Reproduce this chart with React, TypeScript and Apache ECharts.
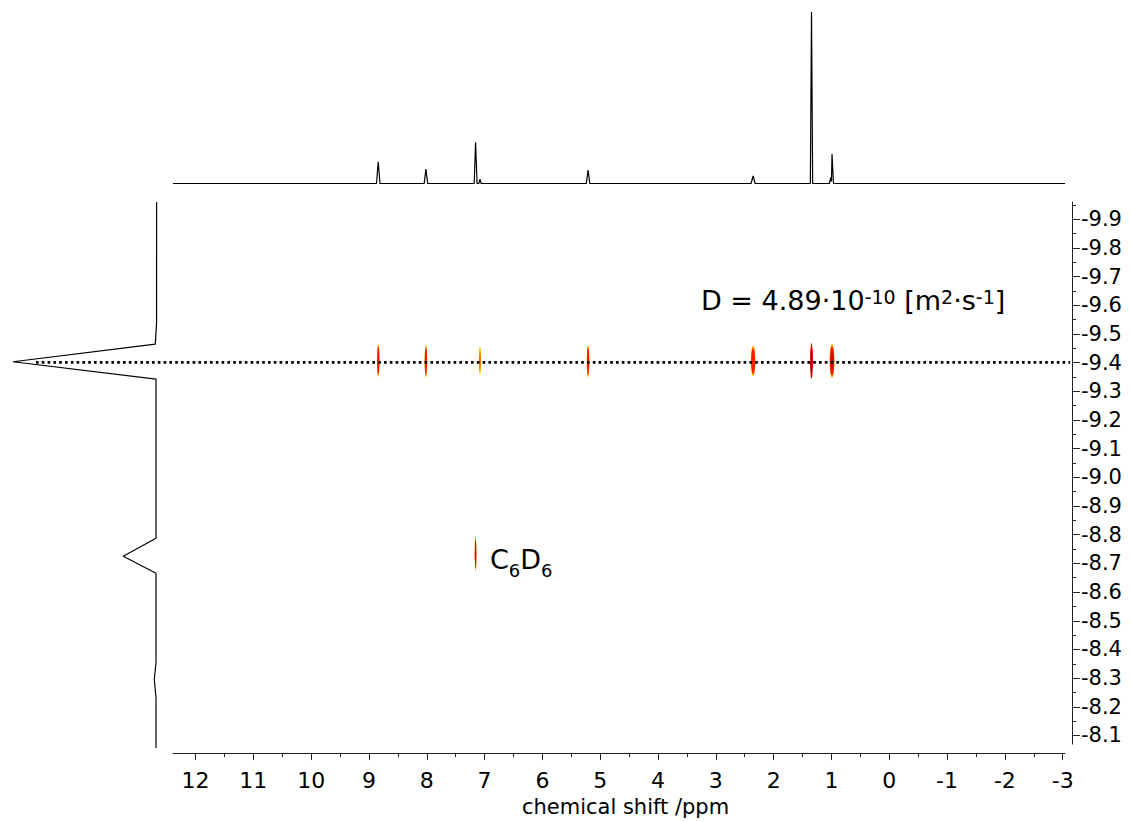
import React, { useEffect, useRef } from 'react';
import * as echarts from 'echarts';

const FONT = 'DejaVu Sans';

// chemical-shift axis (ppm, reversed) and log(D) axis (inverted)
const PPM_LEFT = 12.39;
const PPM_RIGHT = -3.04;
const LOGD_TOP = -9.96;
const LOGD_BOTTOM = -8.07;

const xMajorTicks = [12, 11, 10, 9, 8, 7, 6, 5, 4, 3, 2, 1, 0, -1, -2, -3];
const xMinorTicks = [11.5, 10.5, 9.5, 8.5, 7.5, 6.5, 5.5, 4.5, 3.5, 2.5, 1.5, 0.5, -0.5, -1.5, -2.5];
const yMajorTicks = [-9.9, -9.8, -9.7, -9.6, -9.5, -9.4, -9.3, -9.2, -9.1, -9.0, -8.9, -8.8, -8.7, -8.6, -8.5, -8.4, -8.3, -8.2, -8.1];
const yMinorTicks = [-9.95, -9.85, -9.75, -9.65, -9.55, -9.45, -9.35, -9.25, -9.15, -9.05, -8.95, -8.85, -8.75, -8.65, -8.55, -8.45, -8.35, -8.25, -8.15];

// 1D 1H spectrum (ppm, relative intensity)
const spectrumPoints: [number, number][] = [
  [12.39, 0], [8.87, 0], [8.84, 12.7], [8.81, 0],
  [8.045, 0], [8.015, 8.4], [7.985, 0],
  [7.18, 0], [7.156, 24.0], [7.13, 0],
  [7.1, 0], [7.08, 2.5], [7.06, 0],
  [5.24, 0], [5.21, 7.8], [5.18, 0],
  [2.39, 0], [2.355, 4.5], [2.32, 0],
  [1.365, 0], [1.345, 100], [1.325, 0],
  [1.035, 0], [1.012, 3.5], [1.0, 1.2], [0.99, 17.2], [0.965, 0],
  [PPM_RIGHT, 0],
];

// diffusion projection (relative intensity, log D)
const projectionPoints: [number, number][] = [
  [-0.4, -9.96], [-0.4, -9.54], [0.5, -9.468], [100, -9.407], [0, -9.347],
  [0, -8.796], [22.9, -8.734], [0, -8.675],
  [0, -8.366], [1.2, -8.307], [0, -8.245],
  [0, -8.07],
];

// DOSY cross peaks
const contourPpm = [8.84, 8.015, 7.08, 5.21, 2.355, 1.345, 0.99, 7.156];
const contourLogD = [-9.407, -9.405, -9.407, -9.405, -9.406, -9.406, -9.406, -8.734];
const contourHalfWidth = [0.023, 0.023, 0.02, 0.023, 0.04, 0.024, 0.042, 0.015];
const contourHalfSpan = [0.058, 0.057, 0.049, 0.057, 0.053, 0.062, 0.059, 0.059];
const contourLevel = [2, 2, 1, 2, 2, 4, 3, 5];

const diffusionLogD = -9.405;
const dottedFrom = 83.9;
const dottedTo = -639.2;

const contourLayers: Record<number, [string, number][]> = {
  1: [['#ffd200', 1], ['#ff9000', 0.82], ['#ff5000', 0.5]],
  2: [['#ffc800', 1], ['#ff7000', 0.92], ['#ff1a00', 0.8]],
  3: [['#ffc800', 1], ['#ff7000', 0.94], ['#f01000', 0.82], ['#d00000', 0.45]],
  4: [['#e00000', 1], ['#b80000', 0.75]],
  5: [['#ff8000', 1], ['#e80000', 0.85]],
};

export default function App() {
  const ref = useRef<HTMLDivElement>(null);

  useEffect(() => {
    const chart = echarts.init(ref.current!, null, { renderer: 'svg' });
    const contourData = contourPpm.map((p, i) => [p, contourLogD[i], contourHalfWidth[i], contourHalfSpan[i], contourLevel[i]]);

    const axisLineStyle = { color: '#222', width: 1 };

    chart.setOption({
      animation: false,
      backgroundColor: '#fff',
      grid: [
        { left: 173, right: 65, top: 202, bottom: 74 },
        { left: 173, right: 65, top: 12, bottom: 638.5 },
        { left: 13, right: 58, top: 202, bottom: 74 },
      ],
      xAxis: [
        {
          gridIndex: 0, type: 'value', min: PPM_RIGHT, max: PPM_LEFT, inverse: true,
          position: 'bottom', offset: 9,
          name: 'chemical shift /ppm', nameLocation: 'middle', nameGap: 38,
          nameTextStyle: { fontFamily: FONT, fontSize: 21, color: '#000', padding: [0, 0, 0, 13] },
          axisLine: { show: true, onZero: false, lineStyle: axisLineStyle },
          axisTick: { show: true, inside: false, length: 7, customValues: xMajorTicks, lineStyle: axisLineStyle },
          axisLabel: { show: true, customValues: xMajorTicks, margin: 16, fontFamily: FONT, fontSize: 22, color: '#000', formatter: (v: number) => String(Math.round(v)) },
          splitLine: { show: false },
        },
        {
          gridIndex: 0, type: 'value', min: PPM_RIGHT, max: PPM_LEFT, inverse: true,
          position: 'bottom', offset: 9,
          axisLine: { show: false, onZero: false },
          axisTick: { show: true, inside: false, length: 4, customValues: xMinorTicks, lineStyle: axisLineStyle },
          axisLabel: { show: false },
          splitLine: { show: false },
        },
        { gridIndex: 1, type: 'value', min: PPM_RIGHT, max: PPM_LEFT, inverse: true, show: false, axisLine: { onZero: false } },
        { gridIndex: 2, type: 'value', min: -640.56, max: 100, inverse: true, show: false, axisLine: { onZero: false } },
      ],
      yAxis: [
        {
          gridIndex: 0, type: 'value', min: LOGD_TOP, max: LOGD_BOTTOM, inverse: true,
          position: 'right', offset: 7,
          axisLine: { show: true, onZero: false, lineStyle: axisLineStyle },
          axisTick: { show: true, inside: false, length: 8, customValues: yMajorTicks, lineStyle: axisLineStyle },
          axisLabel: { show: true, customValues: yMajorTicks, margin: 9, fontFamily: FONT, fontSize: 21, color: '#000', formatter: (v: number) => v.toFixed(1) },
          splitLine: { show: false },
        },
        {
          gridIndex: 0, type: 'value', min: LOGD_TOP, max: LOGD_BOTTOM, inverse: true,
          position: 'right', offset: 7,
          axisLine: { show: false, onZero: false },
          axisTick: { show: true, inside: false, length: 4, customValues: yMinorTicks, lineStyle: axisLineStyle },
          axisLabel: { show: false },
          splitLine: { show: false },
        },
        { gridIndex: 1, type: 'value', min: 0, max: 100, show: false, axisLine: { onZero: false } },
        { gridIndex: 2, type: 'value', min: LOGD_TOP, max: LOGD_BOTTOM, inverse: true, show: false, axisLine: { onZero: false } },
      ],
      series: [
        {
          type: 'line', xAxisIndex: 2, yAxisIndex: 2, data: spectrumPoints,
          symbol: 'none', lineStyle: { color: '#000', width: 1.2 }, z: 2,
        },
        {
          type: 'line', xAxisIndex: 3, yAxisIndex: 3, data: projectionPoints,
          symbol: 'none', lineStyle: { color: '#000', width: 1.2 }, z: 2,
        },
        {
          type: 'custom', xAxisIndex: 0, yAxisIndex: 0, data: contourData, clip: false, z: 3,
          encode: { x: 0, y: 1 },
          renderItem: (params: any, api: any) => {
            const ppm = api.value(0), ld = api.value(1), hw = api.value(2), hs = api.value(3), level = api.value(4);
            const c = api.coord([ppm, ld]);
            const r = api.coord([ppm - hw, ld]);
            const t = api.coord([ppm, ld - hs]);
            const rx = Math.abs(r[0] - c[0]);
            const ry = Math.abs(t[1] - c[1]);
            const layers = contourLayers[level] || contourLayers[2];
            return {
              type: 'group',
              children: layers.map(([color, f]) => ({
                type: 'ellipse',
                shape: { cx: c[0], cy: c[1], rx: rx * f, ry: ry * f },
                style: { fill: color },
              })),
            };
          },
        },
        {
          type: 'line', xAxisIndex: 3, yAxisIndex: 3,
          data: [[dottedFrom, diffusionLogD], [dottedTo, diffusionLogD]],
          symbol: 'none', lineStyle: { color: '#000', width: 2.6, type: [2.6, 3.2] }, z: 5,
        },
      ],
      graphic: [
        {
          type: 'text', x: 701, y: 300, z: 10,
          style: {
            text: '{a|D = 4.89·10}{s|-10}{a| [m}{s|2}{a|·s}{s|-1}{a|]}',
            verticalAlign: 'middle', align: 'left',
            rich: {
              a: { fontFamily: FONT, fontSize: 27, lineHeight: 26, fill: '#000' },
              s: { fontFamily: FONT, fontSize: 19, lineHeight: 18, verticalAlign: 'top', fill: '#000' },
            },
          },
        },
        {
          type: 'text', x: 490, y: 559, z: 10,
          style: {
            text: '{a|C}{b|6}{a|D}{b|6}',
            verticalAlign: 'middle', align: 'left',
            rich: {
              a: { fontFamily: FONT, fontSize: 27, lineHeight: 40, fill: '#000' },
              b: { fontFamily: FONT, fontSize: 18, lineHeight: 18, verticalAlign: 'bottom', fill: '#000' },
            },
          },
        },
      ],
    });
    return () => chart.dispose();
  }, []);

  return (
    <div
      ref={ref}
      style={{ position: 'fixed', left: 0, top: 0, width: 1130, height: 822, background: '#fff' }}
    />
  );
}
